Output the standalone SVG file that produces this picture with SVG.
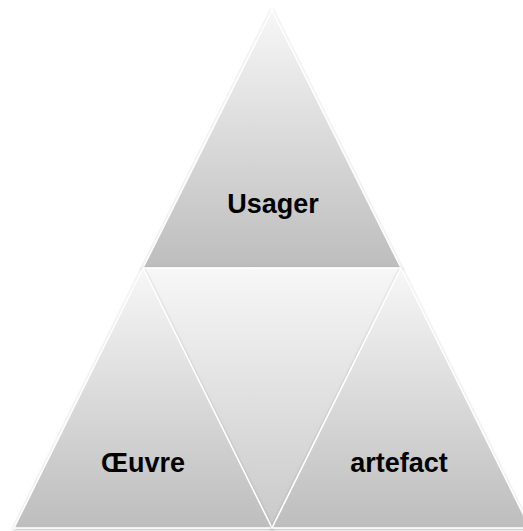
<svg xmlns="http://www.w3.org/2000/svg" width="523" height="531" viewBox="0 0 523 531">
<defs>
<linearGradient id="g" x1="0" y1="0" x2="0" y2="1">
<stop offset="0" stop-color="#f7f7f7"/>
<stop offset="1" stop-color="#bdbdbd"/>
</linearGradient>
<linearGradient id="gm" x1="0" y1="0" x2="0" y2="1">
<stop offset="0" stop-color="#f7f7f7"/>
<stop offset="1" stop-color="#c9c9c9"/>
</linearGradient>
<filter id="sh" x="-10%" y="-10%" width="120%" height="120%">
<feDropShadow dx="0" dy="1" stdDeviation="1.5" flood-color="#000" flood-opacity="0.3"/>
</filter>
<style>
.tri{fill:url(#g);stroke:#ffffff;stroke-width:1.5;stroke-linejoin:round;filter:url(#sh)}
.mid{fill:url(#gm);stroke:#ffffff;stroke-width:1.5;stroke-linejoin:round;filter:url(#sh)}
.lbl{font-family:"Liberation Sans",Arial,sans-serif;font-weight:bold;font-size:27px;fill:#000;text-anchor:middle}
</style>
</defs>
<rect width="523" height="531" fill="#ffffff"/>
<g id="top">
<polygon class="tri" points="272,10 401,268 143,268"/>
<text class="lbl" x="273" y="213">Usager</text>
</g>
<g id="middle">
<polygon class="mid" points="143,268 401,268 272,528"/>
</g>
<g id="left">
<polygon class="tri" points="143,268 272,528 14,528"/>
<text class="lbl" x="143" y="472">Œuvre</text>
</g>
<g id="right">
<polygon class="tri" points="401,268 530,528 272,528"/>
<text class="lbl" x="399" y="472">artefact</text>
</g>
<g id="connectors"/>
</svg>
